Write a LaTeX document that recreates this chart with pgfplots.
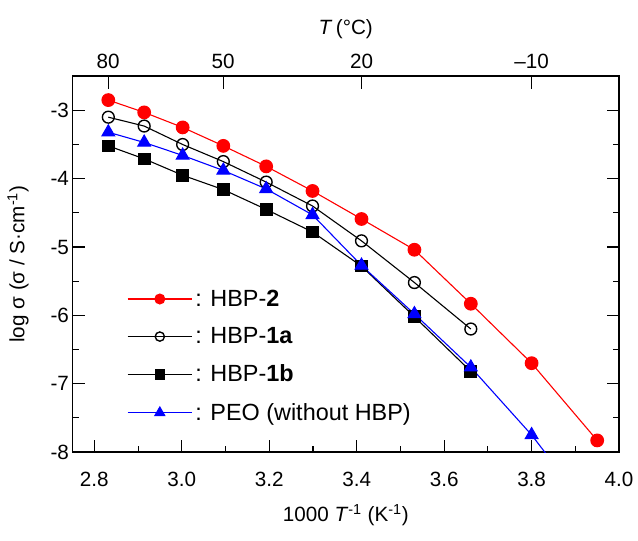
\documentclass[border=0pt]{standalone}
\usepackage{pgfplots}
\pgfplotsset{compat=1.18}
\usepackage{fontspec}
\setmainfont{Liberation Sans}
\begin{document}
\begin{tikzpicture}[font=\fontsize{15}{18}\selectfont]
\pgfplotsset{
  common/.style={scale only axis, width=397pt, height=273pt,
    xmin=2.75, xmax=4.0, ymin=-8, ymax=-2.5,
    tick align=inside, major tick length=9pt, minor tick length=4.5pt,
    /pgf/number format/assume math mode=true,
    every tick/.style={black, line width=0.8pt}},
}
\begin{axis}[common,
  axis line style={line width=1pt},
  xtick={2.8,3.0,3.2,3.4,3.6,3.8,4.0}, minor x tick num=1,
  xticklabels={2.8,3.0,3.2,3.4,3.6,3.8,4.0},
  ytick={-8,-7,-6,-5,-4,-3}, minor y tick num=1,
  yticklabels={-8,-7,-6,-5,-4,-3},
  xtick pos=bottom, ytick pos=both,
  xticklabel style={yshift=-11pt},
  yticklabel style={xshift=1pt},
  xlabel={1000 \textit{T}\textsuperscript{-1} (K\textsuperscript{-1})},
  ylabel={log σ (σ / S·cm\textsuperscript{-1})},
  xlabel style={yshift=-6pt},
  ylabel style={yshift=9pt},
  legend style={at={(0.092,0.447)}, anchor=north west, draw=none, fill=none,
    row sep=10pt, font=\fontsize{17}{20}\selectfont},
  legend cell align=left,
  legend image code/.code={\draw[mark repeat=2,mark phase=2,#1,every mark/.append style={scale=0.78}] plot coordinates {(0cm,0cm)(0.82cm,0cm)(1.64cm,0cm)};},
]
\addplot[red, line width=0.8pt, mark=*, mark size=4.6pt, mark options={fill=red, draw=red}] coordinates {
(2.832,-2.85)(2.914,-3.03)(3.002,-3.25)(3.095,-3.52)(3.193,-3.82)(3.299,-4.18)(3.411,-4.59)(3.532,-5.04)(3.661,-5.83)(3.800,-6.70)(3.950,-7.83)};
\addlegendentry{: HBP-\textbf{2}}
\addplot[black, line width=0.8pt, mark=o, mark size=4.3pt, mark options={fill=white, line width=1pt}] coordinates {
(2.832,-3.10)(2.914,-3.23)(3.002,-3.50)(3.095,-3.75)(3.193,-4.05)(3.299,-4.40)(3.411,-4.91)(3.532,-5.52)(3.661,-6.20)};
\addlegendentry{: HBP-\textbf{1a}}
\addplot[black, line width=0.8pt, mark=square*, mark size=4.2pt, mark options={fill=black}] coordinates {
(2.832,-3.52)(2.914,-3.71)(3.002,-3.95)(3.095,-4.16)(3.193,-4.45)(3.299,-4.78)(3.411,-5.28)(3.532,-6.02)(3.661,-6.82)};
\addlegendentry{: HBP-\textbf{1b}}
\addplot[blue, line width=0.8pt, mark=triangle*, mark size=5.3pt, mark options={fill=blue}] coordinates {
(2.832,-3.32)(2.914,-3.47)(3.002,-3.66)(3.095,-3.88)(3.193,-4.15)(3.299,-4.53)(3.411,-5.27)(3.532,-5.98)(3.661,-6.76)(3.800,-7.75)(3.950,-9.00)};
\addlegendentry{: PEO (without HBP)}
\end{axis}
\begin{axis}[common,
  axis x line*=top, axis y line=none,
  xtick={2.8317,3.0945,3.4112,3.8001},
  xticklabels={80,50,20,–10},
  xticklabel style={yshift=2pt},
  xlabel={\textit{T}\,(°C)},
  xlabel style={yshift=4pt},
]
\end{axis}
\path ([xshift=-2pt,yshift=-7pt]current bounding box.south west) rectangle ([yshift=11pt]current bounding box.north east);
\end{tikzpicture}
\end{document}
